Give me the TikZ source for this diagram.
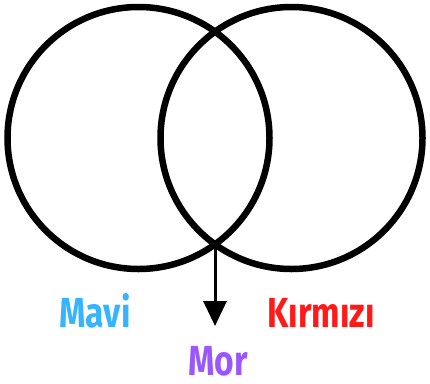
\documentclass[tikz,border=0pt]{standalone}
\usepackage{fontspec}
\setmainfont{Fira Sans}
\usepackage{xcolor}
\usetikzlibrary{positioning,arrows.meta,calc}

\definecolor{maviC}{HTML}{36B4FF}
\definecolor{kirmiziC}{HTML}{FF1A1A}
\definecolor{morC}{HTML}{9A57FF}

\tikzset{
  ring/.style={draw, circle, line width=6.5pt, minimum size=262pt, inner sep=0pt},
  lbl/.style={font=\fontsize{42}{42}\selectfont\bfseries, anchor=base, xscale=0.8, inner sep=0pt},
}

\begin{document}
\begin{tikzpicture}[x=1pt, y=-1pt]
    \useasboundingbox (0,0) rectangle (430,383);
    % the two sets
    \node[ring] (left) at (138.5,138) {};
    \node[ring] (right) at (291.5,138) {};
    \coordinate (meet) at (215,244);
    \coordinate (tip) at (215,326);
    \draw[line width=3pt, -{Triangle[width=23pt,length=25pt]}] (meet) -- (tip);
    % labels
    \node[lbl, text=maviC] (mavi) at (95,327) {Mavi};
    \node[lbl, text=kirmiziC] (kirmizi) at (321,327) {Kırmızı};
    \node[lbl, text=morC] (mor) at (218,375) {Mor};
  \end{tikzpicture}
\end{document}
